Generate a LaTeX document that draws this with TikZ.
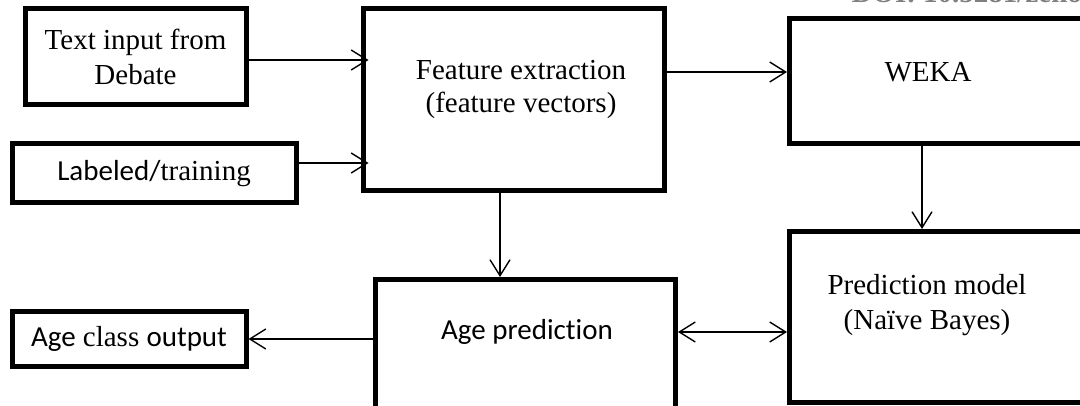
\documentclass[tikz,border=0pt]{standalone}
\usepackage{fontspec}
\setmainfont{Liberation Serif}
\newfontfamily\calibri[Ligatures=NoCommon]{Carlito}
\usetikzlibrary{arrows.meta}
\begin{document}
\begin{tikzpicture}[x=1pt, y=-1pt,
                    box/.style={draw, line width=5pt, inner sep=0pt, align=center},
                    arr/.style={-{Straight Barb[length=16pt, width=20pt]}, line width=1.4pt},
                    font=\fontsize{29}{33}\selectfont]
                    \useasboundingbox (0,0) rectangle (1080,406);
                    \clip (0,0) rectangle (1080,406);

                    \node[text=gray, anchor=base west] (doi) at (848,3) {\bfseries DOI: 10.5281/zenodo.};

                    \node[box, minimum width=221, minimum height=96] (txtin) at (135.5,57) {Text input from\\[2pt]Debate};
                    \node[box, minimum width=284, minimum height=59] (labeled) at (154,173.5) {{\calibri Labeled/}training};
                    \node[box, minimum width=301, minimum height=182] (feat) at (513.5,100) {};
                    \node[align=center] (feattext) at (521,89) {Feature extraction\\(feature vectors)};
                    \node[box, minimum width=330, minimum height=125, anchor=north west] (weka) at (787,16) {};
                    \node (wekatext) at (928,72) {WEKA};
                    \node[box, minimum width=330, minimum height=171, anchor=north west] (pred) at (787,229) {};
                    \node[align=center] (predtext) at (927,305) {Prediction model\\[2pt](Naïve Bayes)};
                    \node[box, minimum width=300, minimum height=160, anchor=north west] (age) at (373,277) {};
                    \node[font=\calibri\fontsize{29}{33}\selectfont] (agetext) at (527,332) {Age prediction};
                    \node[box, minimum width=234, minimum height=54] (out) at (129,339) {{\calibri Age} class {\calibri output}};

                    % connectors
                    \coordinate (t1) at ([yshift=-3pt]txtin.east);
                    \draw[arr, shorten >=-8pt] (t1) -- (t1 -| feat.west);
                    \coordinate (l1) at ([yshift=10.5pt]labeled.east);
                    \draw[arr, shorten >=-8pt] (l1) -- (l1 -| feat.west);
                    \draw[arr] (feat.east |- wekatext) -- (weka.west |- wekatext);
                    \coordinate (f1) at ([xshift=-13.5pt]feat.south);
                    \draw[arr] (f1) -- (f1 |- age.north);
                    \coordinate (w1) at (wekatext |- weka.south);
                    \draw[arr] ([xshift=-6pt]w1) -- ([xshift=-6pt]w1 |- pred.north);
                    \draw[arr] (age.west |- out.east) -- (out.east);
                    \coordinate (a1) at (age.east |- agetext);
                    \draw[arr, {Straight Barb[length=16pt, width=20pt]}-{Straight Barb[length=16pt, width=20pt]}] (a1) -- (a1 -| pred.west);
\end{tikzpicture}
\end{document}
